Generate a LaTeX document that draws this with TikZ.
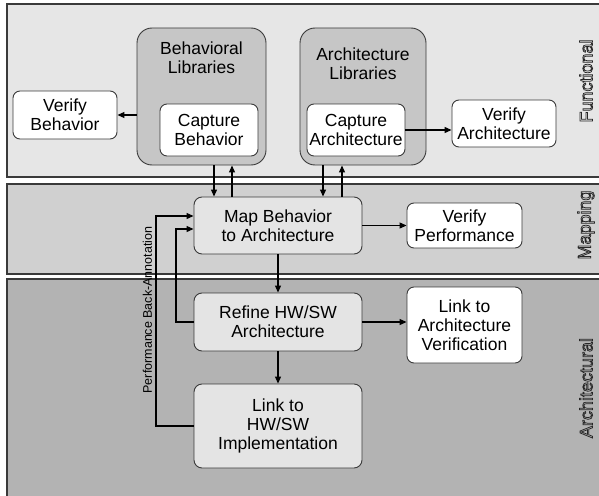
\documentclass[tikz,border=0pt]{standalone}
\usepackage{fontspec}
\setmainfont{Liberation Sans}
\usetikzlibrary{arrows.meta,calc}
\definecolor{funcbg}{HTML}{E6E6E6}
\definecolor{mapbg}{HTML}{D0D0D0}
\definecolor{archbg}{HTML}{B3B3B3}
\definecolor{libbg}{HTML}{C6C6C6}
\definecolor{stepbg}{HTML}{E4E4E4}
\definecolor{edge}{HTML}{3A3A3A}
\newcommand{\outlinedword}[1]{\special{pdf:code 1 Tr 0.75 w}#1\special{pdf:code 0 Tr}}
\tikzset{
  band/.style={fill=#1, draw=edge, line width=1.2pt},
  libbox/.style={draw=edge, fill=libbg, line width=0.9pt, rounded corners=15pt, inner sep=0pt},
  whitebox/.style={draw=edge, fill=white, line width=0.9pt, rounded corners=7pt, align=center, inner sep=0pt},
  stepbox/.style={draw=edge, fill=stepbg, line width=0.9pt, rounded corners=8pt, align=center, inner sep=0pt},
  txt/.style={font=\fontsize{17.5}{19}\selectfont},
  arr/.style={-{Triangle[length=7pt,width=6pt]}, line width=1.1pt, black},
  side/.style={rotate=90, font=\fontsize{18}{20}\selectfont, text=black!85},
}
\begin{document}
\begin{tikzpicture}[x=1pt,y=-1pt]
\useasboundingbox (0,0) rectangle (599,495);
% bands
\path[band=funcbg] (7,4) rectangle (610,177);
\path[band=mapbg] (7,184) rectangle (610,274);
\path[band=archbg] (7,279) rectangle (610,505);

% functional
\node[libbox, minimum width=129pt, minimum height=137pt] (blib) at (201.5,96.5) {};
\node[txt, align=center] (blibt) at (201.5,58) {Behavioral\\Libraries};
\node[whitebox, txt, minimum width=98pt, minimum height=52pt] (cb) at (209,130) {Capture\\Behavior};
\node[whitebox, txt, minimum width=104pt, minimum height=48pt] (vb) at (65,115) {Verify\\Behavior};

\node[libbox, minimum width=126pt, minimum height=137pt] (alib) at (363,96.5) {};
\node[txt, align=center] (alibt) at (363,64) {Architecture\\Libraries};
\node[whitebox, txt, minimum width=98pt, minimum height=52pt] (ca) at (356,130) {Capture\\Architecture};
\node[whitebox, txt, minimum width=104pt, minimum height=47pt] (va) at (504,123.5) {Verify\\Architecture};

% mapping / architectural steps
\node[stepbox, txt, minimum width=168pt, minimum height=57pt] (map) at (278,225.5) {Map Behavior\\to Architecture};
\node[whitebox, txt, minimum width=115pt, minimum height=45pt] (vp) at (464.5,225.5) {Verify\\Performance};
\node[stepbox, txt, minimum width=168pt, minimum height=58pt] (ref) at (278,322) {Refine HW/SW\\Architecture};
\node[whitebox, txt, minimum width=115pt, minimum height=76pt] (lav) at (464.5,325) {Link to\\Architecture\\Verification};
\node[stepbox, txt, minimum width=168pt, minimum height=84pt] (lhw) at (278,426) {Link to\\HW/SW\\Implementation};

% helper coordinates
\coordinate (d1) at (214,0);
\coordinate (d2) at (232,0);
\coordinate (d3) at (323,0);
\coordinate (d4) at (342,0);
\coordinate (fbo) at (156,216);
\coordinate (fbi) at (176,229);

% connectors
\draw[arr] (vb.east -| blib.west) -- (vb.east);
\draw[arr] (ca.east) -- (ca.east -| va.west);
\draw[arr] (blib.south -| d1) -- (map.north -| d1);
\draw[arr] (map.north -| d2) -- (blib.south -| d2);
\draw[arr] (alib.south -| d3) -- (map.north -| d3);
\draw[arr] (map.north -| d4) -- (alib.south -| d4);
\draw[arr] (map.east) -- (vp.west);
\draw[arr] (map.south) -- (ref.north);
\draw[arr] (ref.south) -- (lhw.north);
\draw[arr] (ref.east) -- (ref.east -| lav.west);
\draw[arr] (lhw.west) -- (lhw.west -| fbo) -- (fbo) -- (fbo -| map.west);
\draw[arr] (ref.west) -- (ref.west -| fbi) -- (fbi) -- (fbi -| map.west);

\node[rotate=90, font=\fontsize{12.5}{14}\selectfont, inner sep=0pt] (pba) at (147.5,310) {Performance Back-Annotation};

% side labels (outlined)
\node[side] (lfun) at (586,81) {\outlinedword{Functional}};
\node[side] (lmap) at (586,225) {\outlinedword{Mapping}};
\node[side] (larch) at (586,388) {\outlinedword{Architectural}};
\end{tikzpicture}
\end{document}
